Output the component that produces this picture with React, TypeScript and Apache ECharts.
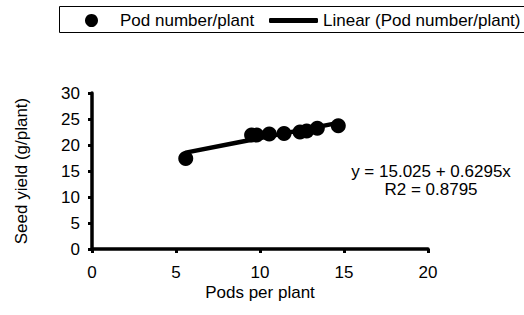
import React, { useEffect, useRef } from "react";
import * as echarts from "echarts";

const podsPerPlant = [5.58, 9.5, 9.8, 10.55, 11.43, 12.38, 12.78, 13.41, 14.66];
const seedYield = [17.4, 21.9, 21.9, 22.1, 22.2, 22.5, 22.7, 23.2, 23.7];
const intercept = 15.025;
const slope = 0.6295;
const r2 = 0.8795;
const xTicks = [0, 5, 10, 15, 20];
const yTicks = [0, 5, 10, 15, 20, 25, 30];
const scatterName = "Pod number/plant";
const trendName = "Linear (Pod number/plant)";

const FONT = "'Liberation Sans', Arial, sans-serif";

export default function App() {
  const ref = useRef<HTMLDivElement>(null);
  useEffect(() => {
    if (!ref.current) return;
    const chart = echarts.init(ref.current, null, { renderer: "svg" });
    const xMin = Math.min(...podsPerPlant);
    const xMax = Math.max(...podsPerPlant);
    const trend = [
      [xMin, intercept + slope * xMin],
      [xMax, intercept + slope * xMax],
    ];
    const axisCommon = {
      axisLine: { show: true, lineStyle: { color: "#000", width: 3.5 } },
      axisTick: { show: true, inside: false, length: 4, lineStyle: { color: "#000", width: 3 } },
      splitLine: { show: false },
      nameTextStyle: { color: "#000", fontSize: 17, fontFamily: FONT },
    };
    chart.setOption({
      animation: false,
      backgroundColor: "#fff",
      textStyle: { fontFamily: FONT },
      grid: { left: 92, right: 96, top: 93, bottom: 66, containLabel: false },
      legend: [
        {
          data: [scatterName],
          left: 85,
          top: 12,
          padding: 0,
          icon: "circle",
          itemWidth: 13,
          itemHeight: 13,
          itemGap: 0,
          selectedMode: false,
          textStyle: { color: "#000", fontSize: 17, fontFamily: FONT, padding: [0, 0, 0, 17] },
        },
        {
          data: [trendName],
          left: 269,
          top: 12,
          padding: 0,
          icon: "roundRect",
          itemWidth: 49,
          itemHeight: 5,
          itemGap: 0,
          selectedMode: false,
          textStyle: { color: "#000", fontSize: 17, fontFamily: FONT },
        },
      ],
      xAxis: {
        type: "value",
        min: xTicks[0],
        max: xTicks[xTicks.length - 1],
        interval: xTicks[1] - xTicks[0],
        name: "Pods per plant",
        nameLocation: "middle",
        nameGap: 35,
        ...axisCommon,
        axisLabel: { color: "#000", fontSize: 17, fontFamily: FONT, margin: 15 },
      },
      yAxis: {
        type: "value",
        min: yTicks[0],
        max: yTicks[yTicks.length - 1],
        interval: yTicks[1] - yTicks[0],
        name: "Seed yield (g/plant)",
        nameLocation: "middle",
        nameRotate: 90,
        nameGap: 62,
        ...axisCommon,
        axisLabel: { color: "#000", fontSize: 17, fontFamily: FONT, margin: 12 },
      },
      series: [
        {
          name: trendName,
          type: "line",
          data: trend,
          showSymbol: false,
          symbol: "none",
          lineStyle: { color: "#000", width: 4.5, cap: "round" },
          itemStyle: { color: "#000" },
          z: 2,
        },
        {
          name: scatterName,
          type: "scatter",
          data: podsPerPlant.map((x, i) => [x, seedYield[i]]),
          symbol: "circle",
          symbolSize: 15,
          itemStyle: { color: "#000", opacity: 1 },
          z: 3,
        },
      ],
      graphic: [
        {
          type: "rect",
          shape: { x: 59.5, y: 6.5, width: 480, height: 26 },
          style: { fill: "none", stroke: "#000", lineWidth: 1 },
          silent: true,
          z: 0,
        },
        {
          type: "text",
          x: 431,
          y: 171,
          style: {
            text: `y = ${intercept.toFixed(3)} + ${slope.toFixed(4)}x`,
            fill: "#000",
            fontSize: 17,
            fontFamily: FONT,
            textAlign: "center",
            textVerticalAlign: "middle",
          },
        },
        {
          type: "text",
          x: 431,
          y: 189,
          style: {
            text: `R2 = ${r2.toFixed(4)}`,
            fill: "#000",
            fontSize: 17,
            fontFamily: FONT,
            textAlign: "center",
            textVerticalAlign: "middle",
          },
        },
      ],
    });
    return () => chart.dispose();
  }, []);
  return (
    <div
      ref={ref}
      style={{ position: "fixed", left: 0, top: 0, width: 524, height: 315 }}
    />
  );
}
